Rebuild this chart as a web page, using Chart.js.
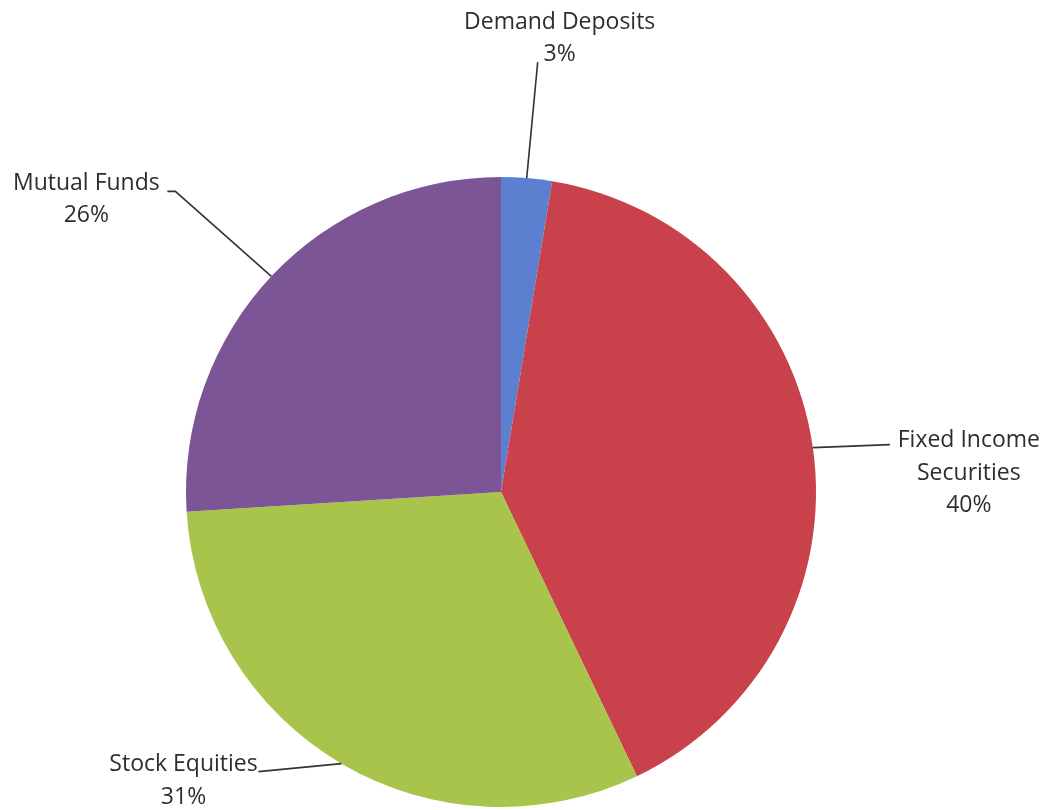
<!DOCTYPE html>
<html>
<head>
<meta charset="utf-8">
<title>Portfolio allocation</title>
<script src="https://cdn.jsdelivr.net/npm/chart.js@4.4.1/dist/chart.umd.min.js"></script>
<style>
  html, body { margin: 0; padding: 0; background: #fff; }
  #wrap { width: 1047px; height: 810px; }
</style>
</head>
<body>
<div id="wrap"><canvas id="pie" width="1047" height="810"></canvas></div>
<script>
// data (percent of portfolio)
const categories = ["Demand Deposits", "Fixed Income Securities", "Stock Equities", "Mutual Funds"];
const shares = [2.6, 40.3, 31.1, 26.0];
// how each label is wrapped on screen
const labelLines = [["Demand Deposits"], ["Fixed Income", "Securities"], ["Stock Equities"], ["Mutual Funds"]];

const colors = ["#5d7fcf", "#c8414b", "#a9c44b", "#7c5597"];

// leader line / label placement, relative to the slice edge point
const callouts = [
  { dx: 11, dy: -116, tx: 22, ty: [-40], bend: null },
  { dx: 77, dy: -3, tx: 79, ty: [-4, 26], bend: null },
  { dx: -83, dy: 8, tx: -75, ty: [-7], bend: null },
  { dx: -104, dy: -85, tx: -81, ty: [-8], bend: 8 }
];

const calloutPlugin = {
  id: "callouts",
  afterDatasetsDraw(chart) {
    const ctx = chart.ctx;
    const meta = chart.getDatasetMeta(0);
    const total = shares.reduce((a, b) => a + b, 0);
    ctx.save();
    ctx.font = "23px 'Open Sans', sans-serif";
    ctx.textAlign = "center";
    ctx.textBaseline = "middle";
    meta.data.forEach((arc, i) => {
      const c = callouts[i];
      const mid = (arc.startAngle + arc.endAngle) / 2;
      const ex = arc.x + arc.outerRadius * Math.cos(mid);
      const ey = arc.y + arc.outerRadius * Math.sin(mid);
      const lx = ex + c.dx, ly = ey + c.dy;
      ctx.strokeStyle = "#333";
      ctx.lineWidth = 1.6;
      ctx.beginPath();
      ctx.moveTo(ex, ey);
      if (c.bend) {
        ctx.lineTo(lx + c.bend, ly);
      }
      ctx.lineTo(lx, ly);
      ctx.stroke();

      ctx.fillStyle = "#2e2e2e";
      const lines = labelLines[i].concat([Math.round(shares[i] / total * 100) + "%"]);
      let y = ly + c.ty[0];
      lines.forEach(t => {
        ctx.fillText(t, lx + c.tx, y);
        y += 32.5;
      });
    });
    ctx.restore();
  }
};

new Chart(document.getElementById("pie"), {
  type: "pie",
  data: {
    labels: categories,
    datasets: [{
      data: shares,
      backgroundColor: colors,
      borderWidth: 0
    }]
  },
  options: {
    responsive: false,
    animation: false,
    devicePixelRatio: 1,
    layout: { padding: { top: 177, bottom: 3, left: 0, right: 45 } },
    plugins: {
      legend: { display: false },
      tooltip: { enabled: false }
    }
  },
  plugins: [calloutPlugin]
});
</script>
</body>
</html>
